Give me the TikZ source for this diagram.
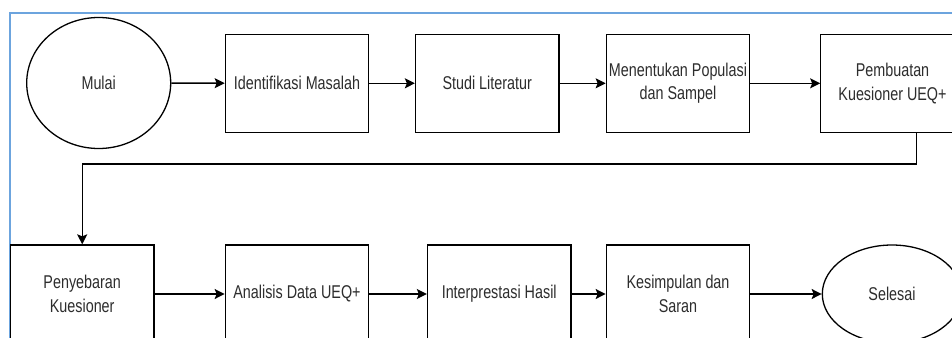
\documentclass[tikz,border=0pt]{standalone}
\usepackage{fontspec}
\setmainfont{Liberation Sans}[FakeStretch=0.776]
\usetikzlibrary{shapes.geometric,arrows.meta}
\definecolor{framecol}{RGB}{108,164,222}
\definecolor{txt}{RGB}{45,45,45}
\tikzset{
  stepbox/.style={draw=black, line width=1.3pt, fill=white, minimum width=143.4pt, minimum height=98pt, inner sep=0pt, align=center, text=txt},
  termin/.style={draw=black, line width=1.3pt, fill=white, ellipse, inner sep=0pt, align=center, text=txt},
  conn/.style={draw=black, line width=1.4pt, -{Stealth[length=10pt,width=10pt,inset=2pt]}}
}
\begin{document}
\begin{tikzpicture}[x=1pt, y=-1pt, font=\fontsize{18.5}{23.5}\selectfont]
\useasboundingbox (0,0) rectangle (952,337);
\clip (0,0) rectangle (952,337);
\fill[white] (0,0) rectangle (952,337);
\draw[framecol, line width=1.6pt] (10,345) -- (10,13) -- (960,13);

% top row
\node[termin, minimum width=144pt, minimum height=131pt] (m) at (98.7,83) {Mulai};
\node[stepbox] (p1) at (297,83.3) {Identifikasi Masalah};
\node[stepbox] (p2) at (487.2,83.3) {Studi Literatur};
\node[stepbox] (p3) at (678,83.3) {Menentukan Populasi\\dan Sampel};
\node[stepbox] (p4) at (892.5,83.3) {Pembuatan\\Kuesioner UEQ+};

% bottom row
\node[stepbox] (q1) at (82.2,294) {Penyebaran\\Kuesioner};
\node[stepbox] (q2) at (297,294) {Analisis Data UEQ+};
\node[stepbox] (q3) at (499.2,294) {Interprestasi Hasil};
\node[stepbox] (q4) at (678,294) {Kesimpulan dan\\Saran};
\node[termin, minimum width=139.4pt, minimum height=98pt] (s) at (892,294) {Selesai};

% connectors
\draw[conn] (m) -- (p1);
\draw[conn] (p1) -- (p2);
\draw[conn] (p2) -- (p3);
\draw[conn] (p3) -- (p4);
\coordinate (bend) at (916.7,164);
\draw[conn] (bend |- p4.south) -- (bend) -| (q1.north);
\draw[conn] (q1) -- (q2);
\draw[conn] (q2) -- (q3);
\draw[conn] (q3) -- (q4);
\draw[conn] (q4) -- (s);
\end{tikzpicture}
\end{document}
